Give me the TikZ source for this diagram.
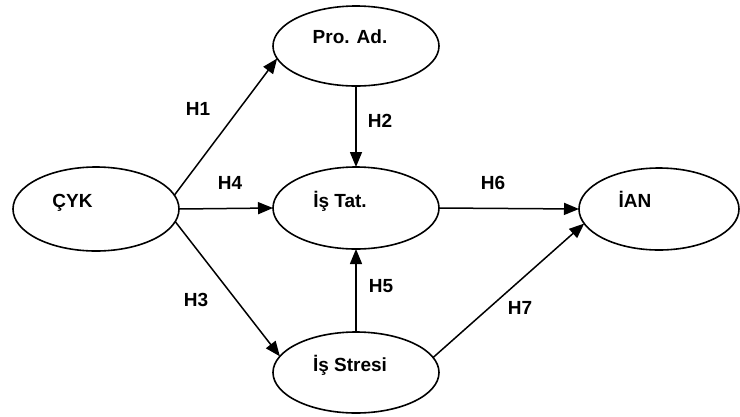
\documentclass[tikz,border=0pt]{standalone}
\usepackage{fontspec}
\setmainfont{Liberation Sans}
\usetikzlibrary{arrows.meta,shapes.geometric}
\begin{document}
\begin{tikzpicture}[x=1pt,y=-1pt,
  ell/.style={draw,line width=1.6pt,ellipse,inner sep=0pt,outer sep=0pt},
  lbl/.style={anchor=base,inner sep=0pt,font=\fontsize{19}{21}\selectfont\bfseries},
  arr/.style={line width=1.5pt,-{Triangle[length=15pt,width=12pt]}}]
\useasboundingbox (0,0) rectangle (740,416);
\node[ell,minimum width=166pt,minimum height=84pt] (cyk) at (96,209) {};
\node[ell,minimum width=166pt,minimum height=80pt] (proad) at (356,46) {};
\node[ell,minimum width=166pt,minimum height=82pt] (istat) at (356,208) {};
\node[ell,minimum width=166pt,minimum height=81pt] (isstr) at (356,372.5) {};
\node[ell,minimum width=160pt,minimum height=82pt] (ian) at (659,209) {};
\node[lbl] (tcyk) at (72.5,207) {ÇYK};
\node[lbl] (tproad) at (350,43) {Pro. Ad.};
\node[lbl] (tistat) at (340,207) {İş Tat.};
\node[lbl] (tisstr) at (350,371) {İş Stresi};
\node[lbl] (tian) at (635,207) {İAN};
\node[lbl] (h1) at (198,115) {H1};
\node[lbl] (h2) at (380,127) {H2};
\node[lbl] (h3) at (196,306) {H3};
\node[lbl] (h4) at (230,189) {H4};
\node[lbl] (h5) at (381,292) {H5};
\node[lbl] (h6) at (493,189) {H6};
\node[lbl] (h7) at (520,314) {H7};
\draw[arr] (cyk.10) -- (proad.189);
\draw[arr] (cyk.east) -- (istat.west);
\draw[arr] (cyk.-9) -- (isstr.168);
\draw[arr] (proad.south) -- (istat.north);
\draw[arr] (isstr.north) -- (istat.south);
\draw[arr] (istat.east) -- (ian.west);
\draw[arr] (isstr.11) -- (ian.191);
\end{tikzpicture}
\end{document}
